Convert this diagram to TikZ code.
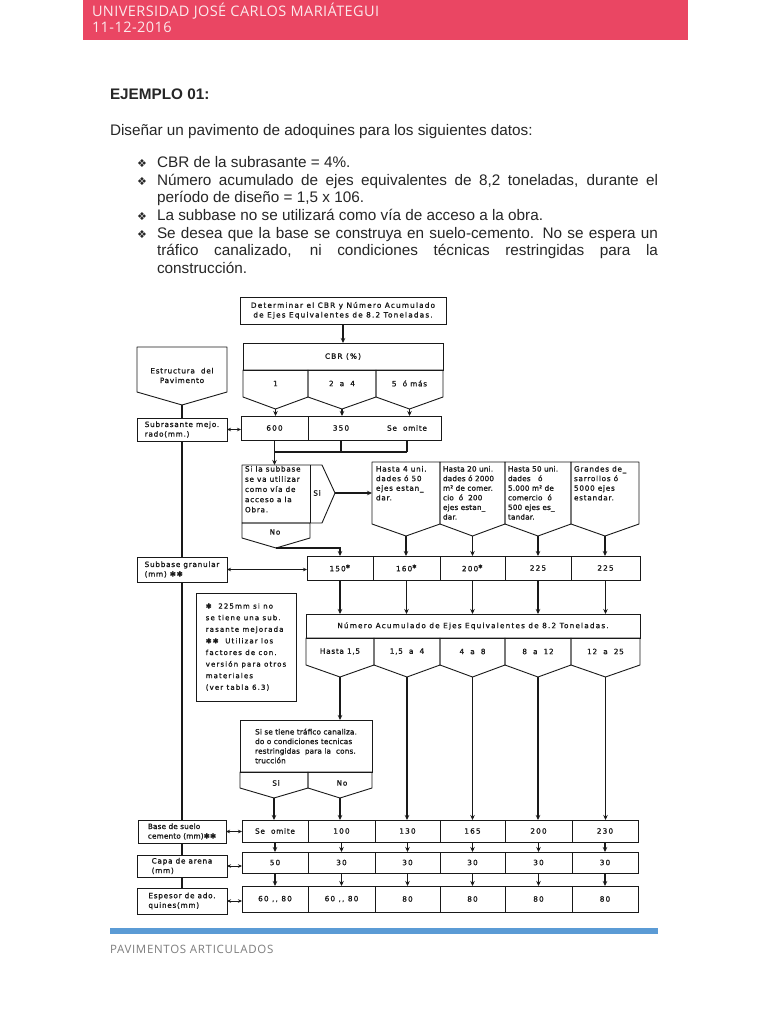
\documentclass[tikz,border=0pt]{standalone}
\usepackage{fontspec}
\setmainfont{Liberation Sans}
\newfontfamily\hdrf{Open Sans}[LetterSpace=3]
\newfontfamily\footf{Open Sans}[LetterSpace=6]
\newfontfamily\symf{DejaVu Sans}
\newfontfamily\fcf{DejaVu Sans}[LetterSpace=2,FakeBold=1.2]
\newfontfamily\fcm{DejaVu Sans}[LetterSpace=10,FakeBold=1.2]
\newfontfamily\fcw{DejaVu Sans}[LetterSpace=16,FakeBold=1.2]
\usetikzlibrary{arrows.meta,calc}
\definecolor{hdrred}{RGB}{234,70,99}
\definecolor{ftblue}{RGB}{91,155,213}
\definecolor{ftgray}{RGB}{125,125,125}
\definecolor{ink}{RGB}{25,25,25}
\newcommand\fsz{\fontsize{7.3}{9.6}\selectfont}
\newcommand\bodysz{\fontsize{15.3}{17.6}\selectfont}
\newcommand\pentol[2]{\draw[ol] (#1.north west) -- (#1.north east) -- (#1.south east) -- ($(#1.south)+(0,#2)$) coordinate (#1t) -- (#1.south west) -- cycle;}
\begin{document}
\begin{tikzpicture}[x=1pt,y=-1pt,
  every node/.style={inner sep=0pt,outer sep=0pt},
  wh/.style 2 args={minimum width=#1,minimum height=#2},
  ol/.style={draw=ink,line width=0.9pt,line join=round},
  bx/.style={draw=ink,line width=0.9pt,anchor=north west,font=\fcm\fsz,align=center,text=ink},
  pn/.style={anchor=north west},
  tx/.style={font=\fcm\fsz,align=left,text=ink},
  arr/.style={draw=ink,line width=1.1pt,-{Stealth[length=5pt,width=4.5pt]}},
  darr/.style={draw=ink,line width=1pt,{Stealth[length=4pt,width=3.5pt]}-{Stealth[length=4pt,width=3.5pt]}},
  ln/.style={draw=ink,line width=1.1pt},
  body/.style={anchor=base west,font=\bodysz,text=black!85},
  blt/.style={anchor=base west,font=\symf\fontsize{11}{12}\selectfont,text=black!85}]
\useasboundingbox (0,0) rectangle (768,1024);
\fill[white] (0,0) rectangle (768,1024);
% header
\fill[hdrred] (83,0) rectangle (688,40);
\node[anchor=base west,font=\hdrf\fontsize{14.5}{16}\selectfont,text=white!88!hdrred] (uni) at (92,17) {UNIVERSIDAD JOSÉ CARLOS MARIÁTEGUI};
\node[anchor=base west,font=\hdrf\fontsize{14.5}{16}\selectfont,text=white!88!hdrred] (fecha) at (92,33) {11-12-2016};
% body text
\node[body,font=\bodysz\bfseries] (ej) at (110,100) {EJEMPLO 01:};
\node[body] (dis) at (110,135.5) {Diseñar un pavimento de adoquines para los siguientes datos:};
\node[blt] (bu1) at (137,167.5) {❖};
\node[blt] (bu2) at (137,185.5) {❖};
\node[blt] (bu3) at (137,220.5) {❖};
\node[blt] (bu4) at (137,238) {❖};
\node[body] (l1) at (157,167.5) {CBR de la subrasante = 4\%.};
\node[body] (l2) at (157,185.5) {\makebox[501pt][s]{Número acumulado de ejes equivalentes de 8,2 toneladas, durante el}};
\node[body] (l3) at (157,203) {período de diseño = 1,5 x 106.};
\node[body] (l4) at (157,220.5) {La subbase no se utilizará como vía de acceso a la obra.};
\node[body] (l5) at (157,238) {\makebox[501pt][s]{Se desea que la base se construya en suelo-cemento. No se espera un}};
\node[body] (l6) at (157,255.5) {\makebox[501pt][s]{tráfico canalizado, ni condiciones técnicas restringidas para la}};
\node[body] (l7) at (157,273) {construcción.};
% ---- flowchart ----
\node[bx,wh={206}{27},font=\fcw\fsz] (det) at (240,297) {Determinar el CBR y Número Acumulado\\de Ejes Equivalentes de 8.2 Toneladas.};
\node[bx,wh={200}{27},font=\fcw\fsz] (cbrh) at (243,343) {CBR (\%)};
\node[pn,wh={65}{27}] (cb1) at (243,370) {};
\node[pn,wh={68}{27}] (cb2) at (308,370) {};
\node[pn,wh={67}{27}] (cb3) at (376,370) {};
\pentol{cb1}{12}
\pentol{cb2}{12}
\pentol{cb3}{12}
\node[tx] (cb1x) at (cb1) {1};
\node[tx] (cb2x) at (cb2) {2 \ a \ 4};
\node[tx] (cb3x) at (cb3) {5 \ ó más};
\draw[arr] (det.south) -- (det.south |- cbrh.north);
% estructura
\node[pn,wh={90}{45}] (est) at (137,347) {};
\pentol{est}{13}
\node[tx,align=center] (estx) at (182,375.5) {Estructura \ del\\Pavimento};
% subrasante
\node[bx,wh={90}{23},align=left] (sub) at (137,418) {Subrasante mejo.\\rado(mm.)};
\draw[ln] (estt) -- (sub.north);
% row1
\node[bx,wh={67}{24},font=\fcw\fsz] (r1a) at (241,416) {600};
\node[bx,wh={133}{24}] (r1b) at (308,416) {};
\node[tx,font=\fcw\fsz] (r1b1) at (341,428) {350};
\node[tx] (r1b2) at (407,428) {Se \ omite};
\draw[arr] (cb1t) -- (cb1t |- r1a.north);
\draw[arr] (cb2t) -- (cb2t |- r1b.north);
\draw[arr] (cb3t) -- (cb3t |- r1b.north);
\draw[darr] (sub.east) -- (sub.east -| r1a.west);
\draw[ln] (r1a.south) -- ++(0,12) coordinate (j1) -- (j1 -| r1b2);
\draw[ln] (r1b1 |- r1b.south) -- (r1b1 |- j1);
\draw[ln] (r1b2 |- r1b.south) -- (r1b2 |- j1);
% si la subbase
\node[pn,wh={68}{58}] (sia) at (242,465) {};
\draw[ol] (sia.north west) -- ++(80,0) -- (335,493) coordinate (siap) -- (322,523) -- (sia.south west) -- cycle;
\draw[ol] (sia.north east) -- (sia.south east);
\node[tx,anchor=north west,font=\fcm\fontsize{7.3}{10.2}\selectfont] (siax) at (245,466) {Si la subbase\\se va utilizar\\como vía de\\acceso a la\\Obra.};
\node[tx] (sisi) at (317,493) {Si};
\draw[arr] (j1) -- (j1 |- sia.north);
\node[pn,wh={68}{15}] (nob) at (242,523) {};
\pentol{nob}{10}
\node[tx] (nobx) at (275,532) {No};
% upper right boxes
\node[pn,wh={68}{62}] (u1) at (372,462) {};
\node[pn,wh={65}{62}] (u2) at (440,462) {};
\node[pn,wh={66}{62}] (u3) at (505,462) {};
\node[pn,wh={68}{62}] (u4) at (571,462) {};
\pentol{u1}{12}
\pentol{u2}{12}
\pentol{u3}{12}
\pentol{u4}{12}
\node[tx,anchor=north west] (u1x) at (376,466) {Hasta 4 uni.\\dades ó 50\\ejes estan\_\\dar.};
\node[tx,anchor=north west,font=\fcf\fsz] (u2x) at (443,466) {Hasta 20 uni.\\dades ó 2000\\m² de comer.\\cio \ ó \ 200\\ejes estan\_\\dar.};
\node[tx,anchor=north west,font=\fcf\fsz] (u3x) at (508,466) {Hasta 50 uni.\\dades \ \ ó\\5.000 m² de\\comercio \ ó\\500 ejes es\_\\tandar.};
\node[tx,anchor=north west] (u4x) at (574,466) {Grandes de\_\\sarrollos ó\\5000 ejes\\estandar.};
\draw[arr] (siap) -- (siap -| u1.west);
% row2
\node[bx,wh={66}{24},font=\fcw\fsz] (r2a) at (307,556) {150\textsuperscript{✱}};
\node[bx,wh={67}{24},font=\fcw\fsz] (r2b) at (373,556) {160\textsuperscript{✱}};
\node[bx,wh={65}{24},font=\fcw\fsz] (r2c) at (440,556) {200\textsuperscript{✱}};
\node[bx,wh={66}{24},font=\fcw\fsz] (r2d) at (505,556) {225};
\node[bx,wh={69}{24},font=\fcw\fsz] (r2e) at (571,556) {225};
\draw[arr] (nobt) -| (r2a.north);
\draw[arr] (u1t) -- (u1t |- r2b.north);
\draw[arr] (u2t) -- (u2t |- r2c.north);
\draw[arr] (u3t) -- (u3t |- r2d.north);
\draw[arr] (u4t) -- (u4t |- r2e.north);
\node[bx,wh={90}{25},align=left] (sg) at (137,557) {Subbase granular\\(mm) ✱✱};
\draw[darr] (sg.east) -- (sg.east -| r2a.west);
\draw[ln] (sub.south) -- (sg.north);
% note
\node[bx,wh={100}{108},align=left,font=\fcw\fontsize{7}{11.6}\selectfont] (note) at (196,593) {✱ \ 225mm si no\\se tiene una sub.\\rasante mejorada\\✱✱ \ Utilizar los\\factores de con.\\versión para otros\\materiales\\(ver tabla 6.3)};
% NAE
\node[bx,wh={334}{24},font=\fcw\fsz] (nah) at (306,614) {Número Acumulado de Ejes Equivalentes de 8.2 Toneladas.};
\node[pn,wh={68}{27}] (n1) at (306,638) {};
\node[pn,wh={66}{27}] (n2) at (374,638) {};
\node[pn,wh={65}{27}] (n3) at (440,638) {};
\node[pn,wh={66}{27}] (n4) at (505,638) {};
\node[pn,wh={69}{27}] (n5) at (571,638) {};
\pentol{n1}{12}
\pentol{n2}{12}
\pentol{n3}{12}
\pentol{n4}{12}
\pentol{n5}{12}
\node[tx] (n1x) at (n1) {Hasta 1,5};
\node[tx] (n2x) at (n2) {1,5 \ a \ 4};
\node[tx] (n3x) at (n3) {4 \ a \ 8};
\node[tx] (n4x) at (n4) {8 \ a \ 12};
\node[tx] (n5x) at (n5) {12 \ a \ 25};
\draw[arr] (r2a.south) -- (r2a.south |- nah.north);
\draw[arr] (r2b.south) -- (r2b.south |- nah.north);
\draw[arr] (r2c.south) -- (r2c.south |- nah.north);
\draw[arr] (r2d.south) -- (r2d.south |- nah.north);
\draw[arr] (r2e.south) -- (r2e.south |- nah.north);
% trafico
\node[bx,wh={132}{52},align=left,font=\fcf\fsz] (tr) at (240,720) {Si se tiene tráfico canaliza.\\do o condiciones tecnicas\\restringidas \ para la \ cons.\\trucción};
\node[pn,wh={68}{16}] (tsi) at (240,772) {};
\node[pn,wh={64}{16}] (tno) at (308,772) {};
\pentol{tsi}{10}
\pentol{tno}{10}
\node[tx] (tsix) at (276,783) {Si};
\node[tx] (tnox) at (342,783) {No};
\draw[arr] (n1t) -- (n1t |- tr.north);
% row3
\node[bx,wh={66}{22}] (b1) at (242,820) {Se \ omite};
\node[bx,wh={67}{22},font=\fcw\fsz] (b2) at (308,820) {100};
\node[bx,wh={65}{22},font=\fcw\fsz] (b3) at (375,820) {130};
\node[bx,wh={65}{22},font=\fcw\fsz] (b4) at (440,820) {165};
\node[bx,wh={67}{22},font=\fcw\fsz] (b5) at (505,820) {200};
\node[bx,wh={66}{22},font=\fcw\fsz] (b6) at (572,820) {230};
% row4
\node[bx,wh={66}{21},font=\fcw\fsz] (c1) at (242,852) {50};
\node[bx,wh={67}{21},font=\fcw\fsz] (c2) at (308,852) {30};
\node[bx,wh={65}{21},font=\fcw\fsz] (c3) at (375,852) {30};
\node[bx,wh={65}{21},font=\fcw\fsz] (c4) at (440,852) {30};
\node[bx,wh={67}{21},font=\fcw\fsz] (c5) at (505,852) {30};
\node[bx,wh={66}{21},font=\fcw\fsz] (c6) at (572,852) {30};
% row5
\node[bx,wh={66}{26},font=\fcw\fsz] (d1) at (242,886) {60 ,, 80};
\node[bx,wh={67}{26},font=\fcw\fsz] (d2) at (308,886) {60 ,, 80};
\node[bx,wh={65}{26},font=\fcw\fsz] (d3) at (375,886) {80};
\node[bx,wh={65}{26},font=\fcw\fsz] (d4) at (440,886) {80};
\node[bx,wh={67}{26},font=\fcw\fsz] (d5) at (505,886) {80};
\node[bx,wh={66}{26},font=\fcw\fsz] (d6) at (572,886) {80};
\draw[arr] (tsit) -- (tsit |- b1.north);
\draw[arr] (tnot) -- (tnot |- b2.north);
\draw[arr] (n2t) -- (n2t |- b3.north);
\draw[arr] (n3t) -- (n3t |- b4.north);
\draw[arr] (n4t) -- (n4t |- b5.north);
\draw[arr] (n5t) -- (n5t |- b6.north);
\foreach \i in {1,...,6} {
  \draw[arr] (b\i.south) -- (c\i.north);
  \draw[arr] (c\i.south) -- (d\i.north);
}
% left column
\node[bx,wh={88}{23},align=left,font=\fcf\fsz] (bs) at (138,820) {Base de suelo\\cemento (mm)✱✱};
\node[bx,wh={90}{22},align=left] (ca) at (137,855) {Capa de arena\\(mm)};
\node[bx,wh={90}{26},align=left] (es) at (137,888) {Espesor de ado.\\quines(mm)};
\draw[darr] (bs.east) -- (bs.east -| b1.west);
\draw[darr] (ca.east) -- (ca.east -| c1.west);
\draw[darr] (es.east) -- (es.east -| d1.west);
\draw[ln] (sg.south) -- (bs.north);
\draw[ln] (bs.south) -- (ca.north);
\draw[ln] (ca.south) -- (es.north);
% footer
\fill[ftblue] (110,928) rectangle (658,934);
\node[anchor=base west,font=\footf\fontsize{11.5}{13}\selectfont,text=ftgray] (foot) at (110,953) {PAVIMENTOS ARTICULADOS};
\end{tikzpicture}
\end{document}
